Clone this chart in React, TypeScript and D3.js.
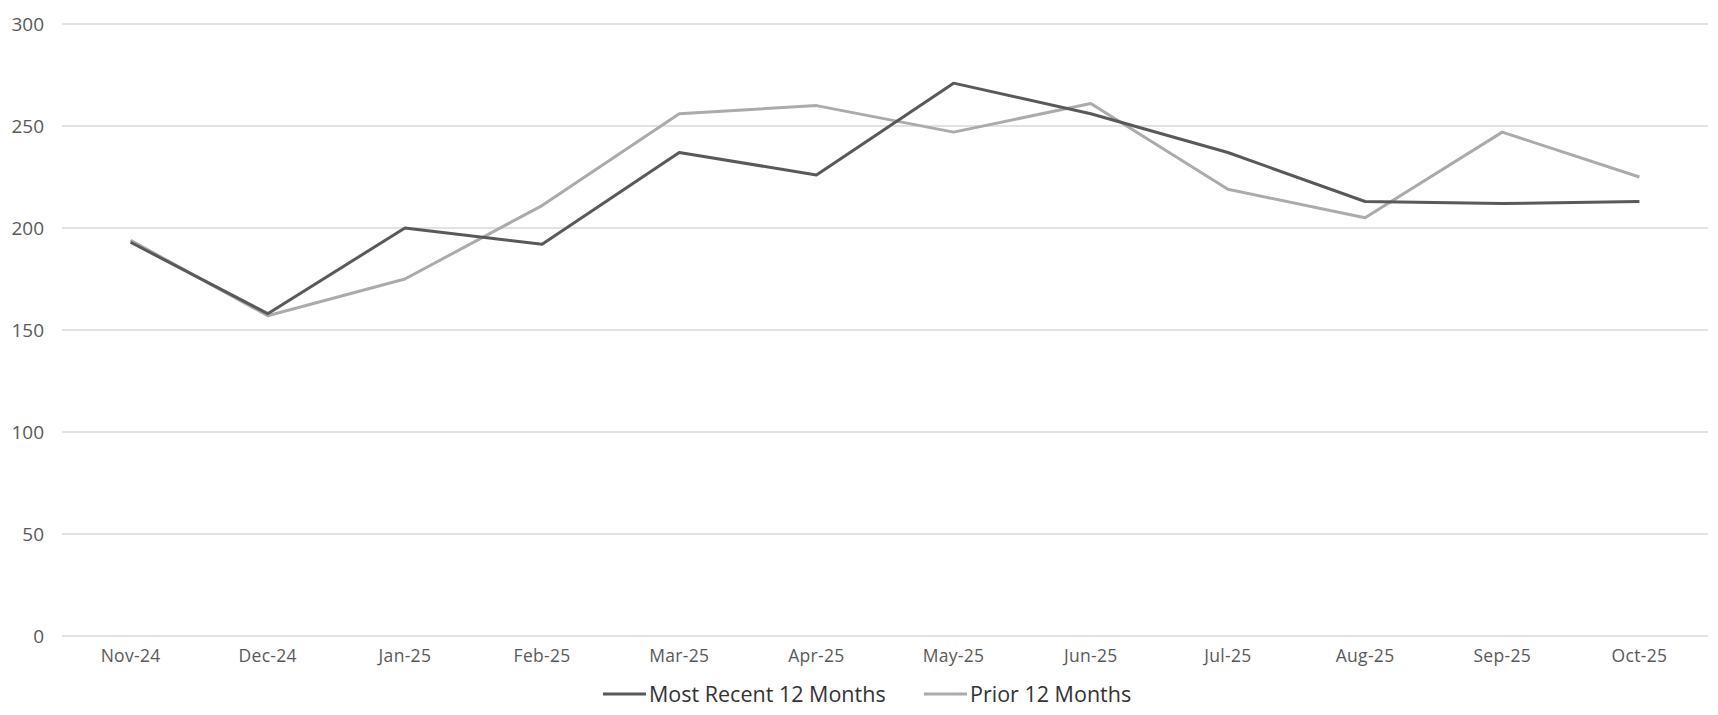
import React from "react";
import * as d3 from "d3";

const categories = ["Nov-24","Dec-24","Jan-25","Feb-25","Mar-25","Apr-25","May-25","Jun-25","Jul-25","Aug-25","Sep-25","Oct-25"];
const recent = [193, 158, 200, 192, 237, 226, 271, 256, 237, 213, 212, 213];
const prior = [194, 157, 175, 211, 256, 260, 247, 261, 219, 205, 247, 225];
const yTicks = [0, 50, 100, 150, 200, 250, 300];
const seriesNames = ["Most Recent 12 Months", "Prior 12 Months"];

const W = 1718, H = 715;
const left = 62, right = 1708, top = 24, bottom = 636;
const FONT = "'Open Sans', sans-serif";

export default function App() {
  const x = d3.scaleBand<string>().domain(categories).range([left, right]);
  const y = d3.scaleLinear().domain([0, 300]).range([bottom, top]);
  const line = d3.line<number>().x((_, i) => (x(categories[i]) as number) + x.bandwidth() / 2).y(d => y(d));
  const colors = ["#595959", "#ababab"];
  const series = [recent, prior];
  const legendX = [603, 924];
  return (
    <svg width={W} height={H} style={{ position: "absolute", left: 0, top: 0, display: "block", background: "#fff" }}>
      {yTicks.map(t => (
        <g key={t}>
          <line x1={left} x2={right} y1={y(t)} y2={y(t)} stroke="#d9d9d9" strokeWidth={1.5} />
          <text x={44} y={y(t)} dy="0.35em" textAnchor="end" fontFamily={FONT} fontSize={19} fill="#595959">{t}</text>
        </g>
      ))}
      {categories.map(c => (
        <text key={c} x={(x(c) as number) + x.bandwidth() / 2} y={661.5} textAnchor="middle" fontFamily={FONT} fontSize={17.5} letterSpacing={0.3} fill="#595959">{c}</text>
      ))}
      {[1, 0].map(i => (
        <path key={i} d={line(series[i]) || ""} fill="none" stroke={colors[i]} strokeWidth={3} strokeLinejoin="round" />
      ))}
      {seriesNames.map((n, i) => {
        const lx = legendX[i];
        return (
          <g key={n}>
            <line x1={lx} x2={lx + 43} y1={694} y2={694} stroke={colors[i]} strokeWidth={3} />
            <text x={lx + 46} y={702} fontFamily={FONT} fontSize={21.5} fill="#333333">{n}</text>
          </g>
        );
      })}
    </svg>
  );
}
